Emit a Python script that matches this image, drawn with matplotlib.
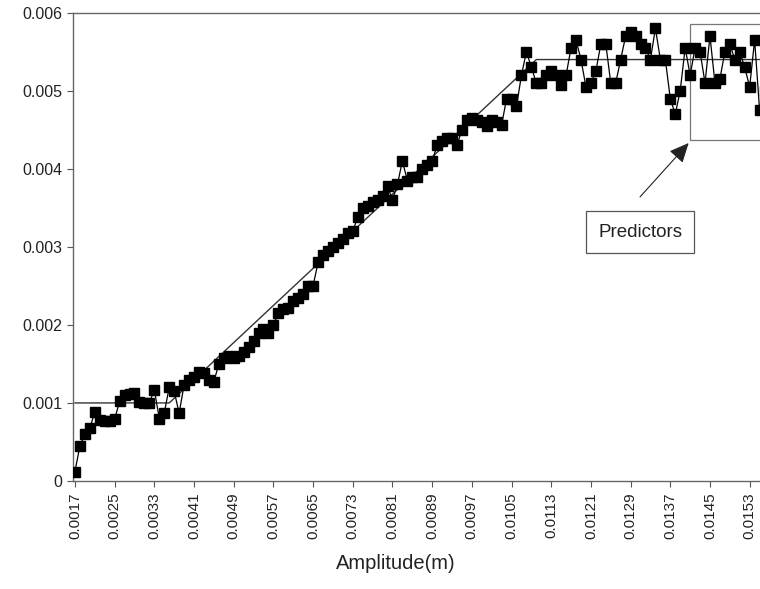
import matplotlib
matplotlib.use("Agg")
import matplotlib.pyplot as plt
import numpy as np
from matplotlib.patches import Rectangle

plt.rcParams["font.family"] = ["Liberation Sans", "DejaVu Sans"]

# amplitude categories (m), one every 0.0001
amplitude = np.round(0.0017 + 0.0001 * np.arange(140), 4)

seg1 = [0.00012, 0.00045, 0.0006, 0.00068, 0.00088, 0.00078, 0.00077, 0.00077,
        0.00079, 0.00102, 0.0011, 0.00112, 0.00113, 0.00101, 0.001, 0.001,
        0.00117, 0.0008, 0.00087, 0.0012, 0.00115, 0.00087, 0.00123, 0.0013,
        0.00133]
seg2 = [0.0014, 0.00138, 0.0013, 0.00127, 0.0015, 0.00158, 0.0016, 0.00158,
        0.0016, 0.00165, 0.00172, 0.0018, 0.0019, 0.00195, 0.0019, 0.002,
        0.00215, 0.0022, 0.00222, 0.0023, 0.00235, 0.0024, 0.0025, 0.0025]
seg3 = [0.0028, 0.0029, 0.00295, 0.003, 0.00305, 0.0031, 0.00318, 0.0032,
        0.00338, 0.0035, 0.00352, 0.00358, 0.0036, 0.00365, 0.00378, 0.0036,
        0.0038, 0.0041, 0.00385, 0.0039, 0.0039, 0.004, 0.00405, 0.0041]
seg4 = [0.0043, 0.00435, 0.0044, 0.0044, 0.0043, 0.0045, 0.00462, 0.00465,
        0.00462, 0.0046, 0.00455, 0.00462, 0.0046, 0.00456, 0.0049, 0.0049,
        0.0048, 0.0052, 0.0055, 0.0053, 0.0051, 0.0051, 0.0052, 0.00525]
seg5 = [0.0052, 0.00508, 0.0052, 0.00555, 0.00565, 0.0054, 0.00505, 0.0051,
        0.00525, 0.0056, 0.0056, 0.0051, 0.0051, 0.0054, 0.0057, 0.00575,
        0.0057, 0.0056, 0.00555, 0.0054, 0.0058, 0.0054, 0.0054]
seg6 = [0.0049, 0.0047, 0.005, 0.00555, 0.0052, 0.00555, 0.0055, 0.0051,
        0.0057, 0.0051, 0.00515, 0.0055, 0.0056, 0.0054, 0.0055, 0.0053,
        0.00505, 0.00565, 0.00475, 0.005]
measured = np.array(seg1 + seg2 + seg3 + seg4 + seg5 + seg6)

# piecewise-linear fit (flat / ramp / flat)
fit_x = [0.0017, 0.0036, 0.0110, 0.0160]
fit_y = [0.001, 0.001, 0.0054, 0.0054]

yticks = [0, 0.001, 0.002, 0.003, 0.004, 0.005, 0.006]
ytick_labels = ["0", "0.001", "0.002", "0.003", "0.004", "0.005", "0.006"]
xtick_vals = amplitude[::8][:18]
xtick_labels = [f"{v:.4f}" for v in xtick_vals]

fig = plt.figure(figsize=(7.6, 5.89), dpi=100)
ax = fig.add_axes([0.096, 0.1834, 0.9237, 0.795])

ax.plot(fit_x, fit_y, color="#333333", linewidth=1.0, zorder=2)
ax.plot(amplitude, measured, color="black", linewidth=0.9, marker="s",
        markersize=6.8, markerfacecolor="black", markeredgecolor="black",
        zorder=3)

ax.set_xlim(0.00166, 0.01581)
ax.set_ylim(0, 0.006)
ax.set_yticks(yticks)
ax.set_yticklabels(ytick_labels, fontsize=11.5, color="#222222")
ax.set_xticks(xtick_vals)
ax.set_xticklabels(xtick_labels, rotation=90, fontsize=11, color="#222222")
ax.tick_params(direction="out", length=4, width=0.8, color="#555555")
ax.tick_params(axis="x", pad=4)
ax.set_xlabel("Amplitude(m)", fontsize=14.5, color="#222222", labelpad=8)
ax.xaxis.set_label_coords(0.46, -0.155)

for side in ("left", "bottom", "top"):
    ax.spines[side].set_color("#666666")
    ax.spines[side].set_linewidth(1.0)
ax.spines["right"].set_visible(False)

# predictor region box
ax.add_patch(Rectangle((0.0141, 0.00437), 0.003, 0.00148, fill=False,
                       edgecolor="#777777", linewidth=0.9, zorder=1))
ax.annotate("", xy=(0.01407, 0.00433), xytext=(0.01309, 0.00364),
            arrowprops=dict(arrowstyle="-|>,head_length=1.2,head_width=0.55",
                            color="#222222", lw=0.8, shrinkA=0, shrinkB=0))
ax.text(0.01309, 0.00319, "Predictors", ha="center", va="center",
        fontsize=13.5, color="#222222",
        bbox=dict(boxstyle="square,pad=0.65", facecolor="white",
                  edgecolor="#555555", linewidth=0.9))

fig.savefig("out.png", dpi=100, facecolor="white")
